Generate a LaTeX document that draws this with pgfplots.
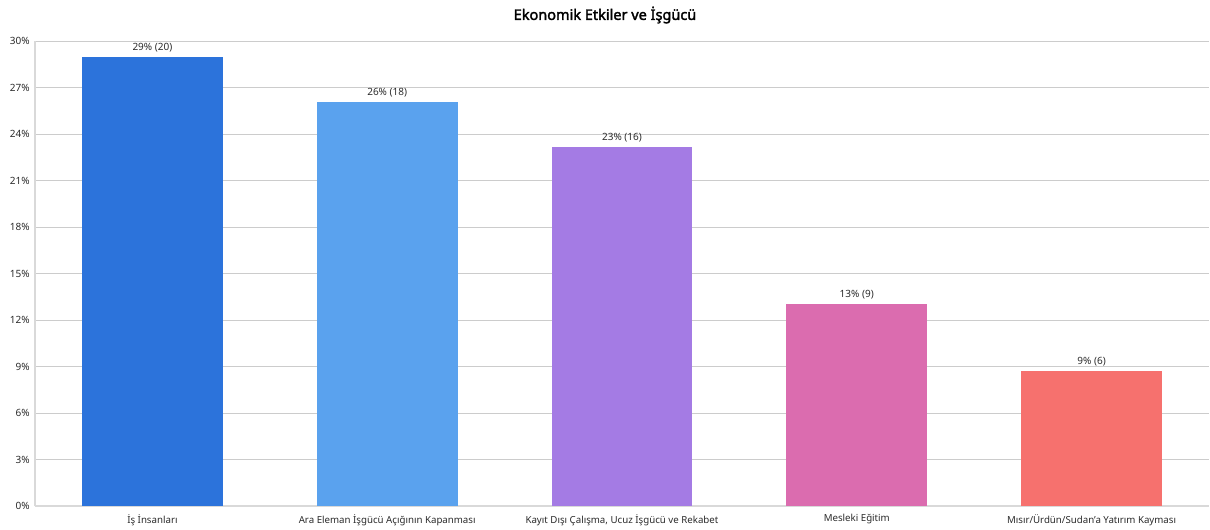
\documentclass[border=0pt]{standalone}
\usepackage{fontspec}
\setmainfont{Noto Sans}
\newfontfamily\titlefont{Noto Sans}[FakeBold=2.2]
\usepackage{pgfplots}
\pgfplotsset{compat=1.18}
\definecolor{c1}{HTML}{2C73DB}
\definecolor{c2}{HTML}{5AA2EE}
\definecolor{c3}{HTML}{A47BE4}
\definecolor{c4}{HTML}{DB6CAF}
\definecolor{c5}{HTML}{F6716E}
\definecolor{txt}{HTML}{2B2B2B}
\begin{document}
\begin{tikzpicture}
\useasboundingbox (0,0) rectangle (1210bp,530bp);
\begin{axis}[
  at={(35bp,24bp)}, anchor=south west,
  scale only axis, width=1174bp, height=465bp,
  xmin=-0.5, xmax=4.5, ymin=0, ymax=30,
  ybar, bar width=0.6, bar shift=0pt,
  xtick={0,1,2,3,4},
  xticklabels={İş İnsanları, Ara Eleman İşgücü Açığının Kapanması, Kayıt Dışı Çalışma{,} Ucuz İşgücü ve Rekabet, Mesleki Eğitim, Mısır/Ürdün/Sudan'a Yatırım Kayması},
  ytick={0,3,...,30},
  yticklabel={\pgfmathprintnumber{\tick}\%},
  /pgf/number format/assume math mode=true,
  tick style={draw=none},
  axis lines=left,
  axis line style={-, draw=black!15, line width=1.5bp},
  ymajorgrids, grid style={draw=black!20, line width=0.8bp},
  ticklabel style={font=\fontsize{10bp}{12bp}\selectfont, text=txt},
  yticklabel style={inner sep=0pt, xshift=-3bp},
  xticklabel style={inner sep=0pt, yshift=-6bp, font=\fontsize{9.7bp}{12bp}\selectfont},
  nodes near coords style={font=\fontsize{10bp}{12bp}\selectfont, text=txt, inner sep=0pt, yshift=4.5bp, anchor=south},
]
\addplot[fill=c1, draw=none, nodes near coords={29\% (20)}] coordinates {(0,28.99)};
\addplot[fill=c2, draw=none, nodes near coords={26\% (18)}] coordinates {(1,26.09)};
\addplot[fill=c3, draw=none, nodes near coords={23\% (16)}] coordinates {(2,23.19)};
\addplot[fill=c4, draw=none, nodes near coords={13\% (9)}] coordinates {(3,13.04)};
\addplot[fill=c5, draw=none, nodes near coords={9\% (6)}] coordinates {(4,8.70)};
\end{axis}
\node[font=\titlefont\fontsize{14.5bp}{16bp}\selectfont, text=black] at (605bp,515bp) {Ekonomik Etkiler ve İşgücü};
\end{tikzpicture}
\end{document}
